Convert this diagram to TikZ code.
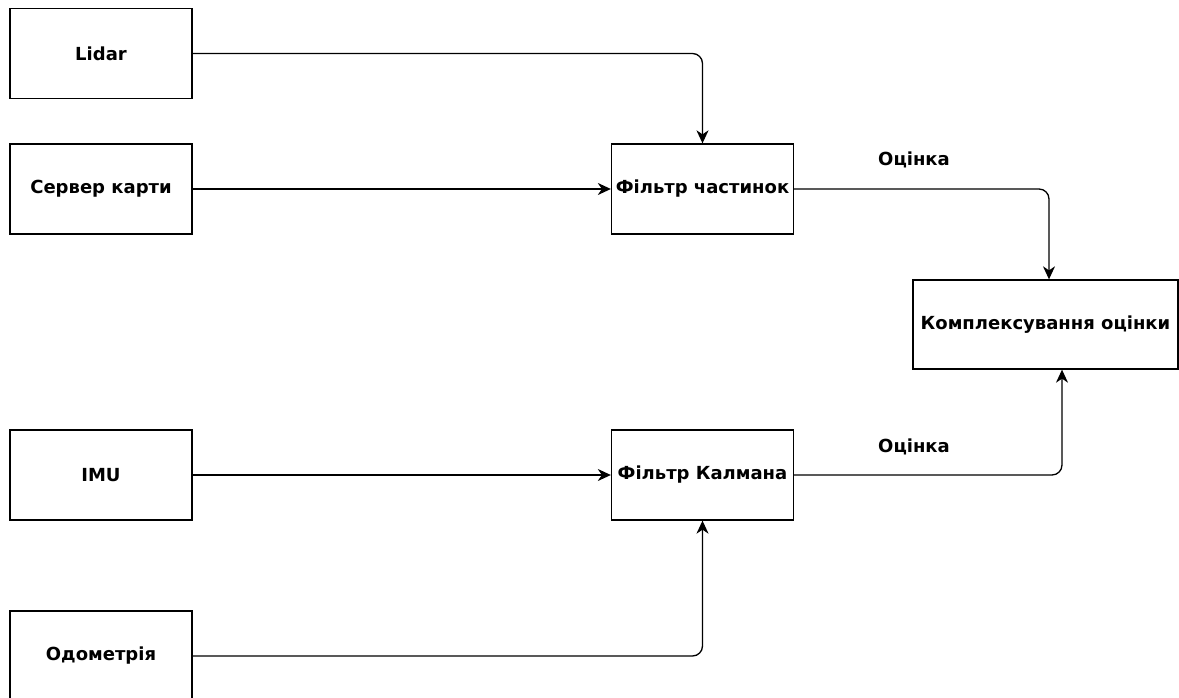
\documentclass[tikz,border=0pt]{standalone}
\usepackage{fontspec}
\setmainfont{DejaVu Sans}
\usetikzlibrary{positioning, arrows.meta, calc}

\begin{document}
\begin{tikzpicture}[
    x=1pt, y=-1pt,
    font=\fontsize{18}{21}\selectfont\bfseries,
    blok/.style={draw, line width=1.3pt, rectangle, minimum width=182pt, minimum height=90pt, inner sep=0pt},
    zviazok/.style={-{Stealth[length=13pt, width=12pt, inset=4pt]}, line width=1.3pt, rounded corners=10pt}
]
    \useasboundingbox[fill=white] (0,0) rectangle (1179,698);

    % --- Джерела даних (ліворуч) ---
    \node (lidar)  [blok] at (101, 53.5)  {Lidar};
    \node (server) [blok] at (101, 189)   {Сервер карти};
    \node (imu)    [blok] at (101, 475)   {IMU};
    \node (odom)   [blok] at (101, 656)   {Одометрія};

    % --- Фільтри ---
    \node (pf) [blok] at (702.5, 189) {Фільтр частинок};
    \node (kf) [blok] at (702.5, 475) {Фільтр Калмана};

    % Комплексування
    \node (fuse) [blok, minimum width=265pt, minimum height=89pt] at (1045.5, 324.5) {Комплексування оцінки};

    % --- Зв'язки ---
    \draw[zviazok] (lidar.east) -| (pf.north);
    \draw[zviazok] (server.east) -- (pf.west);
    \draw[zviazok] (imu.east) -- (kf.west);
    \draw[zviazok] (odom.east) -| (kf.south);

    \draw[zviazok] (pf.east) -| ([xshift=3.5pt]fuse.north);
    \draw[zviazok] (kf.east) -| ([xshift=16.5pt]fuse.south);

    % Підписи
    \node (ocinka1) at (914, 160) {Оцінка};
    \node (ocinka2) at (914, 447) {Оцінка};

\end{tikzpicture}
\end{document}
